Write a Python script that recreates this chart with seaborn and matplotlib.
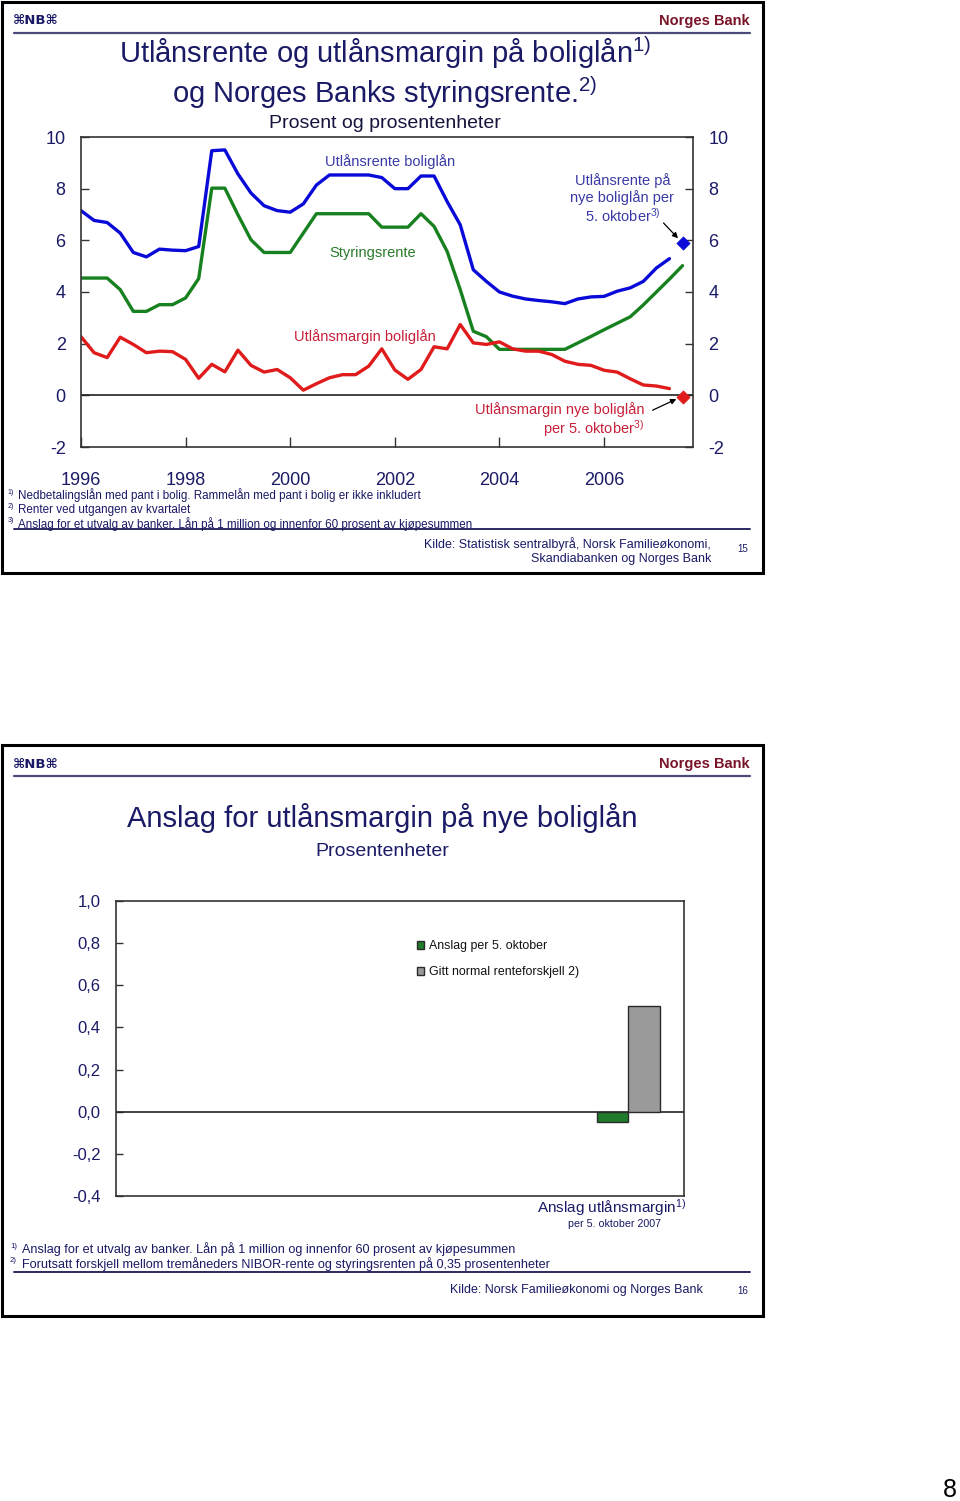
import numpy as np
import pandas as pd
import matplotlib
matplotlib.use("Agg")
import matplotlib.pyplot as plt
import seaborn as sns
from matplotlib.patches import Rectangle
from matplotlib.lines import Line2D
from matplotlib import font_manager

# ---------------- data: slide 15 ----------------
quarters_start_year = 1996
# quarterly observations from 1996Q1, in percent / percentage points
utlansrente = [7.15, 6.77, 6.69, 6.28, 5.53, 5.36, 5.66, 5.62, 5.60, 5.76,
               9.47, 9.50, 8.57, 7.83, 7.34, 7.15, 7.09, 7.41, 8.14, 8.53,
               8.53, 8.53, 8.53, 8.43, 8.00, 8.00, 8.49, 8.49, 7.50, 6.60,
               4.86, 4.41, 4.00, 3.84, 3.73, 3.67, 3.62, 3.55, 3.73, 3.81,
               3.83, 4.03, 4.16, 4.41, 4.93, 5.29]
styringsrente = [4.54, 4.54, 4.54, 4.09, 3.25, 3.25, 3.51, 3.51, 3.77, 4.52,
                 8.02, 8.02, 6.99, 6.02, 5.53, 5.53, 5.53, 6.28, 7.03, 7.03,
                 7.03, 7.03, 7.03, 6.51, 6.51, 6.51, 7.03, 6.54, 5.57, 4.09,
                 2.48, 2.27, 1.78, 1.78, 1.78, 1.78, 1.78, 1.78, 2.03, 2.28,
                 2.54, 2.79, 3.04, 3.50, 4.00, 4.50, 5.02]
utlansmargin = [2.27, 1.65, 1.46, 2.25, 1.97, 1.65, 1.71, 1.69, 1.39, 0.66,
                1.20, 0.91, 1.75, 1.16, 0.90, 1.00, 0.68, 0.20, 0.45, 0.68,
                0.80, 0.80, 1.13, 1.80, 0.98, 0.62, 1.00, 1.88, 1.80, 2.74,
                2.03, 1.97, 2.07, 1.80, 1.71, 1.71, 1.58, 1.32, 1.20, 1.16,
                0.97, 0.90, 0.64, 0.40, 0.36, 0.26]
oktober_time = 2007.5          # 5. oktober 2007 estimate (end of 2007Q3)
oktober_utlansrente = 5.90
oktober_utlansmargin = -0.05
year_ticks = [1996, 1998, 2000, 2002, 2004, 2006]
year_labels = ["1996", "1998", "2000", "2002", "2004", "2006"]
top_yticks = [-2, 0, 2, 4, 6, 8, 10]
top_ylabels = ["-2", "0", "2", "4", "6", "8", "10"]

# ---------------- data: slide 16 ----------------
bar_category = ["Anslag utlånsmargin"]
bar_series = ["Anslag per 5. oktober", "Gitt normal renteforskjell 2)"]
bar_values = [-0.05, 0.50]
bar_yticks = [-0.4, -0.2, 0.0, 0.2, 0.4, 0.6, 0.8, 1.0]
bar_ylabels = ["-0,4", "-0,2", "0,0", "0,2", "0,4", "0,6", "0,8", "1,0"]

# ---------------- style ----------------
sns.set_theme(style="white")
plt.rcParams["font.family"] = ["Liberation Sans", "DejaVu Sans"]
plt.rcParams["mathtext.fontset"] = "custom"
plt.rcParams["mathtext.rm"] = "Liberation Sans"
plt.rcParams["mathtext.it"] = "Liberation Sans:italic"
plt.rcParams["mathtext.bf"] = "Liberation Sans:bold"
plt.rcParams["axes.unicode_minus"] = False

names = {f.name for f in font_manager.fontManager.ttflist}
NARROW = "Liberation Sans Narrow" if "Liberation Sans Narrow" in names else "Liberation Sans"
NSCALE = 1.0 if NARROW == "Liberation Sans Narrow" else 0.85

NAVY = "#1a1a66"
BLUE = "#0a0ad8"
GREEN = "#17801f"
RED = "#e01b1b"
NBRED = "#7a1428"

W, H = 960, 1501
fig = plt.figure(figsize=(W / 100, H / 100), dpi=100)
fig.patch.set_facecolor("white")


def fx(x):
    return x / W


def fy(y):
    return 1 - y / H


def axrect(l, t, r, b):
    return [l / W, 1 - b / H, (r - l) / W, (b - t) / H]


def footnote(x, y, num, text, size, offset):
    """Small superscript marker followed by the footnote text."""
    fig.text(fx(x), fy(y - 3), num + ")", family=NARROW, size=size * 0.62, color=NAVY,
             ha="left", va="center")
    fig.text(fx(x + offset), fy(y), text, family=NARROW, size=size, color=NAVY,
             ha="left", va="center")


def slide(top, bottom, page, kilde_lines, kilde_y, kilde_x, kilde_size):
    fig.patches.append(Rectangle((fx(2), fy(bottom)), fx(763) - fx(2), fy(top) - fy(bottom),
                                 transform=fig.transFigure, fill=False, lw=2.2, ec="black"))
    fig.text(fx(13), fy(top + 19), "⌘NB⌘", family="DejaVu Sans", weight="bold", size=9.5,
             color=NAVY, va="center", ha="left")
    fig.text(fx(750), fy(top + 19), "Norges Bank", weight="bold", size=10.5, color=NBRED,
             ha="right", va="center")
    fig.lines.append(Line2D([fx(14), fx(750)], [fy(top + 31)] * 2, transform=fig.transFigure,
                            color="#4a4a78", lw=1.6))
    fig.lines.append(Line2D([fx(14), fx(750)], [fy(bottom - 44)] * 2, transform=fig.transFigure,
                            color="#2a2a60", lw=1.4))
    for i, line in enumerate(kilde_lines):
        fig.text(fx(kilde_x), fy(kilde_y + 15 * i), line, size=kilde_size, color=NAVY,
                 ha="right", va="center")
    fig.text(fx(743), fy(kilde_y + 5 if len(kilde_lines) > 1 else kilde_y + 1), page,
             size=7, color=NAVY, ha="center", va="center")


# =============== Slide 15 ===============
slide(2, 573, "15",
      ["Kilde: Statistisk sentralbyrå, Norsk Familieøkonomi,", "Skandiabanken og Norges Bank"],
      544, 711, 9.0)
fig.text(fx(385), fy(53), "Utlånsrente og utlånsmargin på boliglån$^{1)}$", size=21,
         color=NAVY, ha="center", va="center")
fig.text(fx(385), fy(93), "og Norges Banks styringsrente.$^{2)}$", size=21,
         color=NAVY, ha="center", va="center")
fig.text(fx(385), fy(124), "Prosent og prosentenheter", size=14, color="#14143c",
         ha="center", va="center")

t_rate = quarters_start_year + 0.25 * np.arange(len(utlansrente))
t_policy = quarters_start_year + 0.25 * np.arange(len(styringsrente))
t_margin = quarters_start_year + 0.25 * np.arange(len(utlansmargin))

ax1 = fig.add_axes(axrect(81, 137, 693, 447))
ax1.axhline(0, color="#222222", lw=1.2, zorder=1)
sns.lineplot(x=t_rate, y=utlansrente, color=BLUE, lw=2.4, ax=ax1)
sns.lineplot(x=t_policy, y=styringsrente, color=GREEN, lw=2.4, ax=ax1)
sns.lineplot(x=t_margin, y=utlansmargin, color=RED, lw=2.4, ax=ax1)
sns.scatterplot(x=[oktober_time], y=[oktober_utlansrente], marker="D", color=BLUE,
                s=45, edgecolor=BLUE, ax=ax1, zorder=5)
sns.scatterplot(x=[oktober_time], y=[oktober_utlansmargin], marker="D", color=RED,
                s=45, edgecolor=RED, ax=ax1, zorder=5)
ax1.set_xlim(1996, 2007.7)
ax1.set_ylim(-2, 10)
ax1.set_xticks(year_ticks)
ax1.set_xticklabels(year_labels)
ax1.set_yticks(top_yticks)
ax1.set_yticklabels(top_ylabels)
ax1.set_xlabel("")
ax1.set_ylabel("")
ax1.tick_params(axis="y", direction="in", length=6, width=1, color="#333333",
                left=True, right=True, labelleft=True, labelright=True,
                labelsize=13, labelcolor=NAVY, pad=11)
ax1.tick_params(axis="x", direction="in", length=7, width=1, color="#333333",
                bottom=True, labelsize=13, labelcolor=NAVY, pad=18)
for sp in ax1.spines.values():
    sp.set_visible(True)
    sp.set_color("#333333")
    sp.set_linewidth(1.2)
ax1.grid(False)

ax1.text(2001.9, 9.05, "Utlånsrente boliglån", size=10.5, color="#3a3aa6", ha="center", va="center")
ax1.text(2001.58, 5.5, "Styringsrente", size=10.5, color="#2a7a2a", ha="center", va="center")
ax1.text(2001.43, 2.28, "Utlånsmargin boliglån", size=10.5, color="#c8203a", ha="center", va="center")
ax1.text(2006.35, 7.6, "Utlånsrente på\nnye boliglån per\n5. oktober$^{3)}$", size=10.5,
         color="#3a3aa6", ha="center", va="center", linespacing=1.15)
ax1.annotate("", xy=(2007.45, 6.0), xytext=(2007.1, 6.75),
             arrowprops=dict(arrowstyle="-|>", color="black", lw=0.9, mutation_scale=8))
ax1.text(2006.77, -0.98, "Utlånsmargin nye boliglån\nper 5. oktober$^{3)}$", size=10.5,
         color="#c8203a", ha="right", va="center", linespacing=1.05)
ax1.annotate("", xy=(2007.43, -0.1), xytext=(2006.88, -0.62),
             arrowprops=dict(arrowstyle="-|>", color="black", lw=0.9, mutation_scale=8))

fn15 = [("1", "Nedbetalingslån med pant i bolig. Rammelån med pant i bolig er ikke inkludert"),
        ("2", "Renter ved utgangen av kvartalet"),
        ("3", "Anslag for et utvalg av banker. Lån på 1 million og innenfor 60 prosent av kjøpesummen")]
for i, (num, line) in enumerate(fn15):
    footnote(8, 495 + 14.5 * i, num, line, 9.8 * NSCALE, 10)

# =============== Slide 16 ===============
slide(745, 1316, "16", ["Kilde: Norsk Familieøkonomi og Norges Bank"], 1290, 703, 9)
fig.text(fx(382), fy(818), "Anslag for utlånsmargin på nye boliglån", size=21, color=NAVY,
         ha="center", va="center")
fig.text(fx(382), fy(852), "Prosentenheter", size=14, color=NAVY, ha="center", va="center")

df_bar = pd.DataFrame({"kategori": bar_category * len(bar_series),
                       "serie": bar_series,
                       "verdi": bar_values})
ax2 = fig.add_axes(axrect(116, 901, 684, 1196))
ax2.axhline(0, color="#222222", lw=1.2, zorder=1)
sns.barplot(data=df_bar, x="kategori", y="verdi", hue="serie",
            palette=["#118a1f", "#9a9a9a"], edgecolor="#2a2a2a", linewidth=1.0,
            width=0.8, ax=ax2, zorder=3)
ax2.set_xlim(-6.5, 0.71)
ax2.set_ylim(-0.4, 1.0)
ax2.set_yticks(bar_yticks)
ax2.set_yticklabels(bar_ylabels)
ax2.set_xticks([])
ax2.set_xlabel("")
ax2.set_ylabel("")
ax2.tick_params(axis="y", direction="in", length=5, width=1, color="#333333", left=True,
                labelsize=12, labelcolor=NAVY, pad=11)
for sp in ax2.spines.values():
    sp.set_visible(True)
    sp.set_color("#333333")
    sp.set_linewidth(1.2)
ax2.grid(False)
handles, labels = ax2.get_legend_handles_labels()
ax2.legend(handles, labels, loc="upper left", bbox_to_anchor=(0.51, 0.905), frameon=False,
           handlelength=0.6, handleheight=0.6, handletextpad=0.4, labelspacing=1.15,
           prop={"family": NARROW, "size": 10.5 * NSCALE}, labelcolor="#111111")

fig.text(fx(686), fy(1208), "Anslag utlånsmargin$^{1)}$", size=11, color=NAVY,
         ha="right", va="center")
fig.text(fx(614), fy(1224), "per 5. oktober 2007", family=NARROW, size=9 * NSCALE,
         color=NAVY, ha="center", va="center")

fn16 = [("1", "Anslag for et utvalg av banker. Lån på 1 million og innenfor 60 prosent av kjøpesummen"),
        ("2", "Forutsatt forskjell mellom tremåneders NIBOR-rente og styringsrenten på 0,35 prosentenheter")]
for i, (num, line) in enumerate(fn16):
    footnote(10, 1249 + 15 * i, num, line, 10.7 * NSCALE, 12)

fig.text(fx(950), fy(1490), "8", size=18, color="black", ha="center", va="center")

fig.savefig("out.png", dpi=100, facecolor="white")
